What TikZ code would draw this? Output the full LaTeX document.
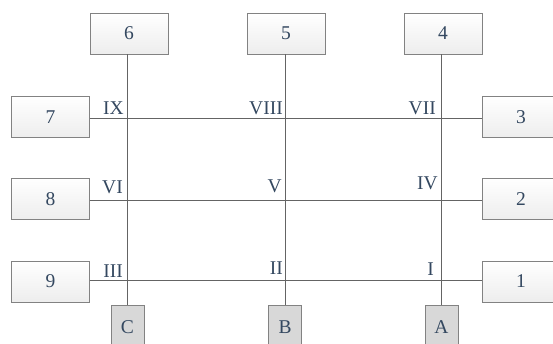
\documentclass[tikz,border=0pt]{standalone}
\usepackage{fontspec}
\setmainfont{Liberation Serif}
\usetikzlibrary{positioning}
\definecolor{inkblue}{RGB}{52,72,96}
\definecolor{frame}{RGB}{130,130,130}
\definecolor{wire}{RGB}{100,100,100}
\definecolor{baseshade}{RGB}{216,216,216}
\tikzset{
  plainbox/.style={draw=frame, line width=0.8pt, top color=white, bottom color=black!7,
    minimum width=78pt, minimum height=41pt, inner sep=0pt,
    font=\fontsize{19.5}{19.5}\selectfont, text=inkblue},
  basebox/.style={draw=frame, line width=0.8pt, fill=baseshade,
    minimum width=33pt, minimum height=44pt, inner sep=0pt,
    font=\fontsize{19.5}{19.5}\selectfont, text=inkblue},
  roman/.style={font=\fontsize{19.5}{19.5}\selectfont, text=inkblue, inner sep=0pt, anchor=base east},
  wireline/.style={draw=wire, line width=0.9pt}
}
\begin{document}
\begin{tikzpicture}[x=1pt,y=-1pt]
\useasboundingbox (0,0) rectangle (553,344);
\begin{scope}
\clip (0,0) rectangle (553,344);
% top row
\node[plainbox] (n6) at (129,33.5) {6};
\node[plainbox] (n5) at (286,33.5) {5};
\node[plainbox] (n4) at (443,33.5) {4};
% left column
\node[plainbox] (n7) at (50.5,117) {7};
\node[plainbox] (n8) at (50.5,199) {8};
\node[plainbox] (n9) at (50.5,281.5) {9};
% right column (runs past the right edge)
\node[plainbox] (n3) at (521,117) {3};
\node[plainbox] (n2) at (521,199) {2};
\node[plainbox] (n1) at (521,281.5) {1};
% bottom row (runs past the bottom edge)
\node[basebox] (nC) at (127.5,327) {C};
\node[basebox] (nB) at (285,327) {B};
\node[basebox] (nA) at (441.5,327) {A};
% crossing points
\coordinate (p9) at (127,118);
\coordinate (p8) at (285,118);
\coordinate (p7) at (441,118);
\coordinate (p6) at (127,200);
\coordinate (p5) at (285,200);
\coordinate (p4) at (441,200);
\coordinate (p3) at (127,280);
\coordinate (p2) at (285,280);
\coordinate (p1) at (441,280);
% vertical lines
\draw[wireline] (n6.south -| p9) -- (nC.north -| p9);
\draw[wireline] (n5.south -| p8) -- (nB.north -| p8);
\draw[wireline] (n4.south -| p7) -- (nA.north -| p7);
% horizontal lines
\draw[wireline] (n7.east |- p9) -- (n3.west |- p9);
\draw[wireline] (n8.east |- p6) -- (n2.west |- p6);
\draw[wireline] (n9.east |- p3) -- (n1.west |- p3);
% crossing labels
\node[roman] (l9) at ([shift={(-3,-3)}]p9) {IX};
\node[roman] (l8) at ([shift={(-2,-3)}]p8) {VIII};
\node[roman] (l7) at ([shift={(-5,-3)}]p7) {VII};
\node[roman] (l6) at ([shift={(-4,-6)}]p6) {VI};
\node[roman] (l5) at ([shift={(-3,-7)}]p5) {V};
\node[roman] (l4) at ([shift={(-3,-10)}]p4) {IV};
\node[roman] (l3) at ([shift={(-4,-3)}]p3) {III};
\node[roman] (l2) at ([shift={(-2,-6)}]p2) {II};
\node[roman] (l1) at ([shift={(-7,-5)}]p1) {I};
\end{scope}
\end{tikzpicture}
\end{document}
